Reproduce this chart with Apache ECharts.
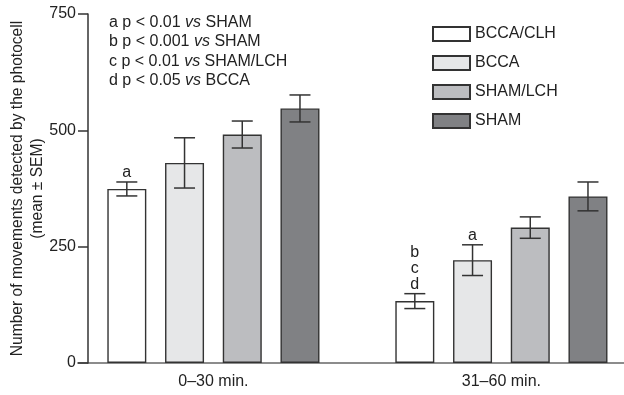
<!DOCTYPE html>
<html>
<head>
<meta charset="utf-8">
<script src="https://cdn.jsdelivr.net/npm/echarts@6/dist/echarts.min.js"></script>
<style>
  html, body { margin: 0; padding: 0; background: #fff; }
  #chart { width: 624px; height: 395px; }
</style>
</head>
<body>
<div id="chart"></div>
<script>
// data
const periods = ['0–30 min.', '31–60 min.']
const groups = ['BCCA/CLH', 'BCCA', 'SHAM/LCH', 'SHAM']
const means = [
  [374, 133],
  [430, 221],
  [491, 291],
  [547, 358]
]
const sems = [
  [15, 16],
  [54, 33],
  [29, 23],
  [29, 31]
]
const marks = [
  ['a', 'b\nc\nd'],
  ['', 'a'],
  ['', ''],
  ['', '']
]
const yTicks = [0, 250, 500, 750]
const notes = [
  'a p < 0.01 {i|vs} SHAM',
  'b p < 0.001 {i|vs} SHAM',
  'c p < 0.01 {i|vs} SHAM/LCH',
  'd p < 0.05 {i|vs} BCCA'
]

const colors = ['#ffffff', '#e6e7e8', '#bcbdc0', '#808184']
const font = 'Liberation Sans, Arial, sans-serif'
const fs = 16
const barWidth = 39
const barGap = 0.48

const chart = echarts.init(document.getElementById('chart'))

const series = []
groups.forEach((name, s) => {
  series.push({
    name,
    type: 'bar',
    xAxisIndex: 0,
    yAxisIndex: 0,
    barWidth,
    barGap: barGap * 100 + '%',
    itemStyle: { color: colors[s], borderColor: '#333', borderWidth: 1.4 },
    data: means[s]
  })
})
// error bars + significance letters
groups.forEach((name, s) => {
  series.push({
    type: 'custom',
    xAxisIndex: 0,
    yAxisIndex: 0,
    z: 5,
    silent: true,
    data: means[s].map((m, i) => [i, m - sems[s][i], m + sems[s][i]]),
    renderItem(params, api) {
      const offset = (s - 1.5) * barWidth * (1 + barGap)
      const lo = api.coord([api.value(0), api.value(1)])
      const hi = api.coord([api.value(0), api.value(2)])
      const x = lo[0] + offset
      const cap = 10.5
      const style = { stroke: '#333', lineWidth: 1.5 }
      return {
        type: 'group',
        children: [
          { type: 'line', shape: { x1: x, y1: lo[1], x2: x, y2: hi[1] }, style },
          { type: 'line', shape: { x1: x - cap, y1: hi[1], x2: x + cap, y2: hi[1] }, style },
          { type: 'line', shape: { x1: x - cap, y1: lo[1], x2: x + cap, y2: lo[1] }, style },
          {
            type: 'text',
            style: {
              text: marks[s][params.dataIndex],
              x: x,
              y: hi[1] - 1,
              align: 'center',
              verticalAlign: 'bottom',
              font: fs + 'px ' + font,
              lineHeight: 16,
              fill: '#222'
            }
          }
        ]
      }
    }
  })
})

const option = {
  animation: false,
  title: {
    text: notes.join('\n'),
    left: 109,
    top: 13,
    padding: 0,
    textStyle: {
      fontFamily: font,
      fontSize: fs,
      fontWeight: 'normal',
      color: '#222',
      lineHeight: 19.3,
      rich: {
        i: { fontStyle: 'italic', fontFamily: font, fontSize: fs, color: '#222', lineHeight: 19.3 }
      }
    }
  },
  legend: {
    orient: 'vertical',
    left: 432,
    top: 26,
    padding: 0,
    itemWidth: 37,
    itemHeight: 14,
    itemGap: 13,
    icon: 'rect',
    selectedMode: false,
    textStyle: { fontFamily: font, fontSize: fs, color: '#222', lineHeight: 14 },
    data: groups
  },
  grid: [
    { left: 69.4, right: -21.4, top: 14, bottom: 32, outerBoundsMode: 'none', containLabel: false },
    { left: 78, right: 0, top: 14, bottom: 32, outerBoundsMode: 'none', containLabel: false }
  ],
  xAxis: [
    {
      type: 'category',
      gridIndex: 0,
      data: periods,
      axisLine: { show: false },
      axisTick: { show: false },
      axisLabel: { margin: 11, fontFamily: font, fontSize: fs, color: '#222' }
    },
    {
      type: 'value',
      gridIndex: 1,
      min: 0,
      max: 1,
      axisLine: { show: true, lineStyle: { color: '#8c8c8c', width: 2 } },
      axisTick: { show: false },
      axisLabel: { show: false },
      splitLine: { show: false }
    }
  ],
  yAxis: [
    {
      type: 'value',
      gridIndex: 0,
      min: 0,
      max: 750,
      interval: 250,
      offset: -18.6,
      z: 10,
      name: 'Number of movements detected by the photocell\n(mean ± SEM)',
      nameLocation: 'middle',
      nameGap: 40,
      nameMoveOverlap: false,
      nameTextStyle: { fontFamily: font, fontSize: 15.6, color: '#222', lineHeight: 20 },
      axisLine: { show: true, lineStyle: { color: '#333', width: 1.5 } },
      axisTick: { show: true, length: 10, lineStyle: { color: '#333', width: 1.5 } },
      axisLabel: {
        margin: 12,
        fontFamily: font,
        fontSize: fs,
        color: '#222',
        formatter: v => (yTicks.includes(v) ? String(v) : '')
      },
      splitLine: { show: false }
    },
    { type: 'value', gridIndex: 1, show: false, min: 0, max: 750 }
  ],
  series
}

chart.setOption(option)
</script>
</body>
</html>
